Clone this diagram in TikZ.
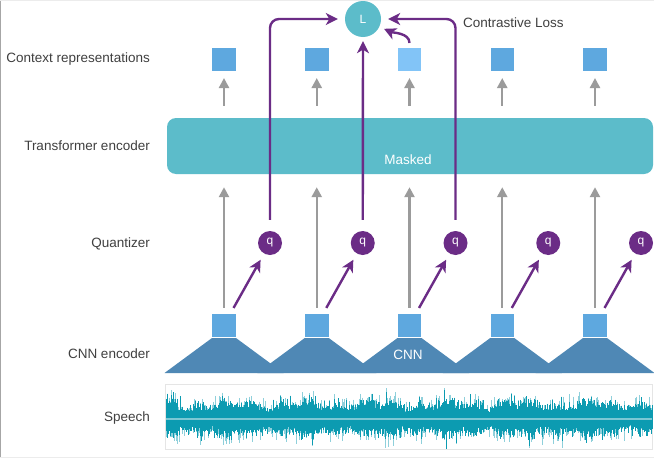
\documentclass[tikz,border=0pt]{standalone}
\usepackage{fontspec}
\setmainfont{Liberation Sans}
\usetikzlibrary{arrows.meta}
\definecolor{boxteal}{HTML}{5CBCCA}
\definecolor{purp}{HTML}{6B2C86}
\definecolor{grayarr}{HTML}{9B9B9B}
\definecolor{sqc}{HTML}{5EA8DF}
\definecolor{sqlight}{HTML}{82C4F7}
\definecolor{trapc}{HTML}{4F88B5}
\definecolor{wavec}{HTML}{0C9BB1}
\definecolor{wavelight}{HTML}{8FD0DB}
\definecolor{txt}{HTML}{404040}
\begin{document}
\begin{tikzpicture}[x=1pt,y=-1pt,
  font=\fontsize{13.5}{16}\selectfont,
  lab/.style={anchor=east, text=txt, inner sep=0pt},
  sqr/.style={fill=sqc, minimum size=24.5pt, inner sep=0pt, draw=white, line width=0.6pt},
  qnode/.style={circle, fill=purp, minimum size=24pt, inner sep=0pt, text=white, font=\fontsize{12}{14}\selectfont},
  garrow/.style={draw=grayarr, line width=2.4pt, -{Triangle[width=10pt,length=10pt]}},
  parrow/.style={draw=purp, line width=2.4pt, -{Stealth[width=12pt,length=12pt,inset=3.5pt]}},
  wline/.style={draw=wavec, line width=1pt},
  wlight/.style={draw=wavelight, line width=1pt},
]
\useasboundingbox (0,0) rectangle (654,458);
\fill[white] (0,0) rectangle (654,458);
\draw[gray!70, line width=1pt] (0.5,0) -- (0.5,458);
\draw[gray!15, line width=0.8pt] (0,0.5) -- (654,0.5);
\draw[gray!15, line width=0.8pt] (0,457.5) -- (654,457.5);

% left labels
\node[lab] (lctx) at (150,59) {Context representations};
\node[lab] (ltr) at (150,146) {Transformer encoder};
\node[lab] (lq) at (150,244) {Quantizer};
\node[lab] (lcnn) at (150,354) {CNN encoder};
\node[lab] (lsp) at (150,418) {Speech};

% speech waveform
\draw[gray!20, line width=0.8pt] (165,384) rectangle (652,449);
\pgfmathsetseed{7}
\foreach \i in {166,167,...,652}{
  \pgfmathsetmacro\env{17+3*sin(\i*5)+2.5*sin(\i*13+40)}
  \pgfmathsetmacro\ha{\env*(0.55+0.45*rnd)+9*rnd^6}
  \pgfmathsetmacro\hb{\env*(0.5+0.5*rnd)+8*rnd^6}
  \pgfmathsetmacro\la{min(\ha+10*rnd^5,31)}
  \pgfmathsetmacro\lb{min(\hb+10*rnd^5,30)}
  \draw[wlight] (\i,{419-\la}) -- (\i,{419+\lb});
  \draw[wline] (\i,{419-\ha}) -- (\i,{419+\hb});
}
\draw[wavelight, line width=2.4pt, opacity=0.85] (166,419) -- (652,419);

% CNN trapezoids
\foreach \x in {224,316.75,409.5,502.25,595}{
  \fill[trapc] (\x-12,338) -- (\x+12,338) -- (\x+59.5,373) -- (\x-59.5,373) -- cycle;
}
\node[text=white] (cnnlab) at (408,355) {CNN};

% CNN squares
\node[sqr] (s1) at (224,325.5) {};
\node[sqr] (s2) at (316.75,325.5) {};
\node[sqr] (s3) at (409.5,325.5) {};
\node[sqr] (s4) at (502.25,325.5) {};
\node[sqr] (s5) at (595,325.5) {};

% quantizer nodes
\node[qnode] (q1) at (270,243) {q};
\node[qnode] (q2) at (362.75,243) {q};
\node[qnode] (q3) at (455.5,243) {q};
\node[qnode] (q4) at (548.25,243) {q};
\node[qnode] (q5) at (641,243) {q};

% transformer
\node[fill=boxteal, rounded corners=9pt, minimum width=486pt, minimum height=56pt, inner sep=0pt] (T) at (410,146) {};
\node[text=white] (masked) at (408,160) {Masked};

% context squares
\node[sqr] (c1) at (224,59.5) {};
\node[sqr] (c2) at (316.75,59.5) {};
\node[sqr, fill=sqlight] (c3) at (409.5,59.5) {};
\node[sqr] (c4) at (502.25,59.5) {};
\node[sqr] (c5) at (595,59.5) {};

% loss
\node[circle, fill=boxteal, minimum size=36pt, inner sep=0pt, text=white, font=\fontsize{12}{14}\selectfont] (L) at (363,19) {L};
\node[anchor=west, text=txt, inner sep=0pt] (closs) at (463,23) {Contrastive Loss};

% gray arrows
\foreach \i in {1,...,5}{
  \draw[garrow, shorten <=5pt, shorten >=13pt] (s\i.north) -- (s\i.north |- T.south);
  \draw[garrow, shorten <=12pt, shorten >=6pt] (c\i.south |- T.north) -- (c\i.south);
}

% purple CNN -> q arrows
\foreach \i in {1,...,5}{
  \draw[parrow, shorten >=7pt] ([xshift=-3pt,yshift=5pt]s\i.north east) -- (q\i);
}

% purple q -> L
\draw[parrow, rounded corners=9pt, shorten <=11pt, shorten >=7pt] (q1.north) |- (L.west);
\draw[parrow, shorten <=11pt, shorten >=4pt] (q2.north) -- (L.south);
\draw[parrow, rounded corners=9pt, shorten <=11pt, shorten >=7pt] (q3.north) |- (L.east);
\draw[parrow, shorten <=4pt, shorten >=5pt] (c3.north) to[out=90,in=-25] (L.-25);
\end{tikzpicture}
\end{document}
